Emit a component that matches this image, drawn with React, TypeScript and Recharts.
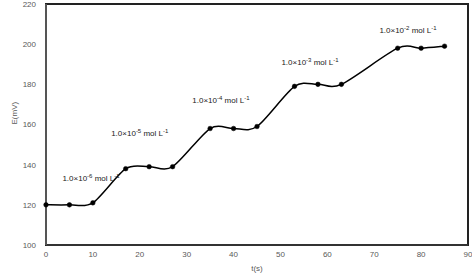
import React from "react";
import { LineChart, Line, XAxis, YAxis, ReferenceDot, ReferenceArea } from "recharts";

const times = [0, 5, 10, 17, 22, 27, 35, 40, 45, 53, 58, 63, 75, 80, 85];
const potentials = [120, 120, 121, 138, 139, 139, 158, 158, 159, 179, 180, 180, 198, 198, 199];
const xTicks = [0, 10, 20, 30, 40, 50, 60, 70, 80, 90];
const yTicks = [100, 120, 140, 160, 180, 200, 220];
const labelX = [9.6, 20, 37.3, 56.3, 77.2];
const labelY = [133.4, 155.8, 172.2, 191.1, 207];
const labelExp = ["-6", "-5", "-4", "-3", "-2"];

const data = times.map((t, i) => ({ t, e: potentials[i] }));

// Cardinal smoothing similar to spreadsheet smoothed lines
function smoothCurve(context: any) {
  let pts: [number, number][] = [];
  return {
    areaStart() {},
    areaEnd() {},
    lineStart() {
      pts = [];
    },
    lineEnd() {
      if (pts.length === 0) return;
      context.moveTo(pts[0][0], pts[0][1]);
      const k = 0.28;
      for (let i = 0; i < pts.length - 1; i++) {
        const p0 = pts[i - 1] || pts[i];
        const p1 = pts[i];
        const p2 = pts[i + 1];
        const p3 = pts[i + 2] || p2;
        const c1x = p1[0] + (p2[0] - p0[0]) * k / 2;
        const c1y = p1[1] + (p2[1] - p0[1]) * k / 2;
        const c2x = p2[0] - (p3[0] - p1[0]) * k / 2;
        const c2y = p2[1] - (p3[1] - p1[1]) * k / 2;
        context.bezierCurveTo(c1x, c1y, c2x, c2y, p2[0], p2[1]);
      }
    },
    point(x: number, y: number) {
      pts.push([x, y]);
    },
  };
}

const ConcLabel = (props: any) => {
  const { viewBox, exp } = props;
  const cx = viewBox.x + (viewBox.width || 0) / 2;
  const cy = viewBox.y + (viewBox.height || 0) / 2;
  return (
    <text x={cx} y={cy + 3} textAnchor="middle" fontSize={8} fill="#222" fontFamily="Liberation Sans, Arial, sans-serif">
      <tspan>1.0×10</tspan>
      <tspan dy={-3} fontSize={6}>{exp}</tspan>
      <tspan dy={3}> mol L</tspan>
      <tspan dy={-3} fontSize={6}>-1</tspan>
    </text>
  );
};

export default function App() {
  return (
    <div style={{ position: "absolute", left: 0, top: 0 }}>
      <LineChart width={472} height={274} data={data} margin={{ top: 4, right: 4, bottom: 0, left: 0 }}
        style={{ fontFamily: "Liberation Sans, Arial, sans-serif" }}>
        <XAxis dataKey="t" type="number" domain={[0, 90]} ticks={xTicks} height={29}
          axisLine={{ stroke: "#333", strokeWidth: 2 }} tickLine={false}
          tick={{ fontSize: 8, fill: "#595959" }} tickMargin={0}
          label={{ value: "t(s)", position: "insideBottom", offset: 3, fontSize: 8, fill: "#595959" }} />
        <YAxis type="number" domain={[100, 220]} ticks={yTicks} width={46}
          axisLine={{ stroke: "#555", strokeWidth: 2 }} tickLine={false}
          tick={{ fontSize: 8, fill: "#595959" }} tickMargin={4}
          label={{ value: "E(mV)", angle: -90, position: "insideLeft", offset: 14, fontSize: 8, fill: "#595959" }} />
        <ReferenceArea x1={0} x2={90} y1={100} y2={220} fill="none" fillOpacity={0}
          stroke="#222" strokeWidth={2} ifOverflow="visible" />
        <Line dataKey="e" type={smoothCurve as any} stroke="#000" strokeWidth={1.5}
          dot={{ r: 2.3, fill: "#000", stroke: "#000", strokeWidth: 0.5 }} isAnimationActive={false} />
        {labelX.map((x, i) => (
          <ReferenceDot key={i} x={x} y={labelY[i]} r={0} fill="none" stroke="none"
            label={<ConcLabel exp={labelExp[i]} />} />
        ))}
      </LineChart>
    </div>
  );
}
